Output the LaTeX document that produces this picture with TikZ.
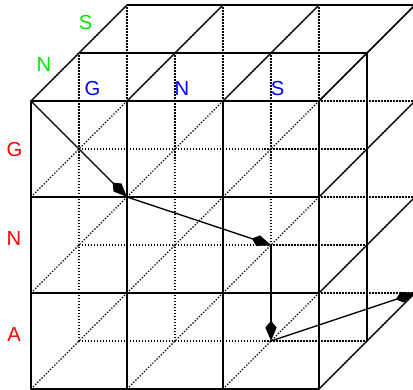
\documentclass[tikz,border=0pt]{standalone}
\usepackage{fontspec}
\setmainfont{Liberation Sans}
\usetikzlibrary{arrows.meta}
\definecolor{lblred}{RGB}{255,0,0}
\definecolor{lblblue}{RGB}{0,0,255}
\definecolor{lblgreen}{RGB}{0,235,0}

\begin{document}
\begin{tikzpicture}[
    x={(1.5cm,0cm)}, y={(0cm,1.5cm)}, z={(0.75cm,0.75cm)},
    hidden/.style={line width=0.5pt, dash pattern=on 0.6pt off 0.73pt},
    edge/.style={line width=0.5pt, line cap=round},
    move/.style={-{Kite[length=9pt, width=5pt, inset=3pt]}, line width=0.6pt},
    lbl/.style={font=\fontsize{9}{11}\selectfont, inner sep=0pt}
]
\useasboundingbox (-0.323,-0.0104) rectangle (3.979,4.052);

% inner lattice (dotted)
\foreach \a in {0,...,3} \foreach \c in {0,1,2} \draw[hidden] (0,\a,\c) -- (3,\a,\c);
\foreach \a in {0,...,3} \foreach \c in {0,1,2} \draw[hidden] (\a,0,\c) -- (\a,3,\c);
\foreach \a in {0,...,3} \foreach \b in {0,...,3} \draw[hidden] (\a,\b,0) -- (\a,\b,2);

% front face
\foreach \a in {0,...,3} {
  \draw[edge] (\a,0,0) -- (\a,3,0);
  \draw[edge] (0,\a,0) -- (3,\a,0);
}
% top face
\foreach \a in {0,...,3} \draw[edge] (\a,3,0) -- (\a,3,2);
\foreach \c in {1,2} \draw[edge] (0,3,\c) -- (3,3,\c);
% right face
\foreach \a in {0,...,3} \draw[edge] (3,\a,0) -- (3,\a,2);
\foreach \c in {1,2} \draw[edge] (3,0,\c) -- (3,3,\c);

% labels
\node[lbl, text=lblred] (rowG) at (-0.172,2.495) {G};
\node[lbl, text=lblred] (rowN) at (-0.177,1.568) {N};
\node[lbl, text=lblred] (rowA) at (-0.177,0.563) {A};
\node[lbl, text=lblblue] (colG) at (0.641,3.125) {G};
\node[lbl, text=lblblue] (colN) at (1.573,3.125) {N};
\node[lbl, text=lblblue] (colS) at (2.568,3.125) {S};
\node[lbl, text=lblgreen] (depN) at (0.135,3.375) {N};
\node[lbl, text=lblgreen] (depS) at (0.568,3.818) {S};

% path through the cube
\coordinate (start) at (0,3,0);
\coordinate (p1) at (1,2,0);
\coordinate (p2) at (2,1,1);
\coordinate (p3) at (2,0,1);
\coordinate (p4) at (3,0,2);
\draw[move] (start) -- (p1);
\draw[move] (p1) -- (p2);
\draw[move] (p2) -- (p3);
\draw[move] (p3) -- (p4);

\end{tikzpicture}
\end{document}
